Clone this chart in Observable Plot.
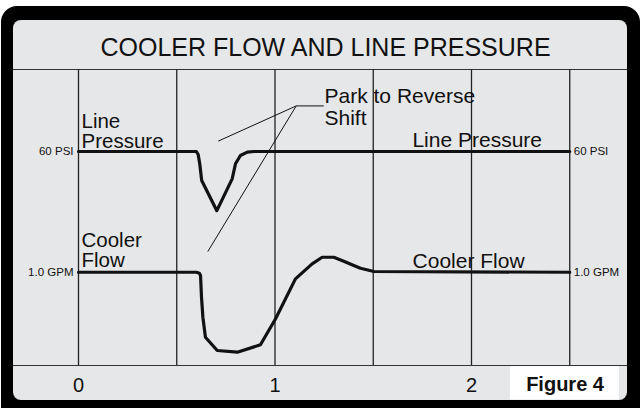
<!DOCTYPE html>
<html><head><meta charset="utf-8">
<script src="https://cdn.jsdelivr.net/npm/d3@7"></script>
<script src="https://cdn.jsdelivr.net/npm/@observablehq/plot@0.6"></script>
<style>
html,body{margin:0;padding:0;background:#fff;}
#wrap{position:relative;width:644px;height:408px;overflow:hidden;}
#outer{position:absolute;left:1px;top:6px;width:639px;height:420px;background:#000;border-radius:16px;}
#inner{position:absolute;left:13px;top:20px;width:614px;height:380px;background:#e6e7e8;border-radius:8px;}
#chart{position:absolute;left:0;top:0;}
</style></head><body>
<div id="wrap"><div id="outer"></div><div id="inner"></div><div id="chart"></div></div>
<script>
// ---- data ----
const title = "COOLER FLOW AND LINE PRESSURE";
const timeTicks = [0, 1, 2];
const timeTickLabels = ["0", "1", "2"];
const gridSeconds = [0, 0.5, 1, 1.5, 2, 2.5];

const pressureTime = [0, 0.600, 0.609, 0.617, 0.627, 0.704, 0.782, 0.799, 0.824, 0.859, 0.892, 2.5];
const pressurePSI  = [60, 60, 58.5, 53.9, 45.6, 30.6, 46.4, 53.9, 58.0, 59.7, 60, 60];

const flowTime = [0, 0.600, 0.615, 0.621, 0.626, 0.633, 0.646, 0.706, 0.808, 0.926, 1.003, 1.104, 1.189, 1.240, 1.299, 1.350, 1.401, 1.435, 1.503, 2.5];
const flowGPM  = [1.0, 1.0, 0.99, 0.965, 0.732, 0.518, 0.303, 0.161, 0.143, 0.222, 0.501, 0.929, 1.090, 1.161, 1.161, 1.118, 1.072, 1.043, 1.008, 1.0];

const pressureLevel = 60, flowLevel = 1.0;
const levelLabels = ["60 PSI", "1.0 GPM"];
const leftSeriesLabels = ["Line\nPressure", "Cooler\nFlow"];
const rightSeriesLabels = ["Line Pressure", "Cooler Flow"];
const annotationText = "Park to Reverse\nShift";
const figureLabel = "Figure 4";

// ---- lanes (vertical position as % of plot height) ----
const pressureLane = psi => 31.5 + psi * 0.68;
const flowLane = gpm => gpm * 31.5;

const pressure = pressureTime.map((t, i) => ({t, v: pressureLane(pressurePSI[i])}));
const flow = flowTime.map((t, i) => ({t, v: flowLane(flowGPM[i])}));
const knee = {x: 1.108, y: 87.7};
const leaders = [
  {x1: knee.x, y1: knee.y, x2: 1.248, y2: knee.y},
  {x1: knee.x, y1: knee.y, x2: 0.711, y2: 75.8},
  {x1: knee.x, y1: knee.y, x2: 0.658, y2: 38.5}
];

const font = "'Liberation Sans', Arial, Helvetica, sans-serif";
const ink = "#111";
const levelsY = [pressureLane(pressureLevel), flowLane(flowLevel)];

const chart = Plot.plot({
  width: 644, height: 408,
  marginTop: 20, marginBottom: 8, marginLeft: 13, marginRight: 17,
  x: {domain: [0, 2], range: [78, 471], axis: null},
  y: {domain: [0, 100], range: [365, 69], axis: null},
  style: {fontFamily: font, background: "transparent", overflow: "visible"},
  marks: [
    Plot.ruleY([0, 100], {stroke: "#333", strokeWidth: 1.2}),
    Plot.ruleX(gridSeconds, {y1: 0, y2: 100, stroke: "#222", strokeWidth: 1.3}),
    Plot.rect([figureLabel], {x1: 2.198, x2: 2.753, y1: -11.6, y2: -0.4, fill: "#fff"}),
    Plot.line(pressure, {x: "t", y: "v", stroke: ink, strokeWidth: 3.2, strokeLinejoin: "round"}),
    Plot.line(flow, {x: "t", y: "v", stroke: ink, strokeWidth: 3.2, strokeLinejoin: "round"}),
    Plot.link(leaders, {x1: "x1", y1: "y1", x2: "x2", y2: "y2", stroke: ink, strokeWidth: 1}),
    Plot.text([title], {x: 1.257, y: 100, dy: -13.6, text: d => d, fontSize: 25, lineAnchor: "bottom", textAnchor: "middle", fill: ink}),
    Plot.text([leftSeriesLabels[0]], {x: 0, y: levelsY[0], dx: 3, dy: -3.5, text: d => d, fontSize: 20.5, lineHeight: 0.98, lineAnchor: "bottom", textAnchor: "start", fill: ink}),
    Plot.text([leftSeriesLabels[1]], {x: 0, y: levelsY[1], dx: 3, dy: -5.7, text: d => d, fontSize: 20.5, lineHeight: 0.95, lineAnchor: "bottom", textAnchor: "start", fill: ink}),
    Plot.text(rightSeriesLabels, {x: [2.029, 1.985], y: levelsY, dy: -4.5, text: d => d, fontSize: 21, lineAnchor: "bottom", textAnchor: "middle", fill: ink}),
    Plot.text(levelLabels, {x: 0, y: levelsY, dx: -5, text: d => d, fontSize: 11.5, lineAnchor: "middle", textAnchor: "end", fill: ink}),
    Plot.text(levelLabels, {x: 2.5, y: levelsY, dx: 4, text: d => d, fontSize: 11.5, lineAnchor: "middle", textAnchor: "start", fill: ink}),
    Plot.text([annotationText], {x: 1.252, y: 81.4, text: d => d, fontSize: 21, lineHeight: 1.02, lineAnchor: "bottom", textAnchor: "start", fill: ink}),
    Plot.text(timeTicks, {x: d => d, y: 0, dy: 26, text: (d, i) => timeTickLabels[i], fontSize: 20, lineAnchor: "bottom", textAnchor: "middle", fill: ink}),
    Plot.text([figureLabel], {x: 2.476, y: 0, dy: 25.8, text: d => d, fontSize: 20, fontWeight: "bold", lineAnchor: "bottom", textAnchor: "middle", fill: ink})
  ]
});
document.getElementById("chart").appendChild(chart);
</script></body></html>
